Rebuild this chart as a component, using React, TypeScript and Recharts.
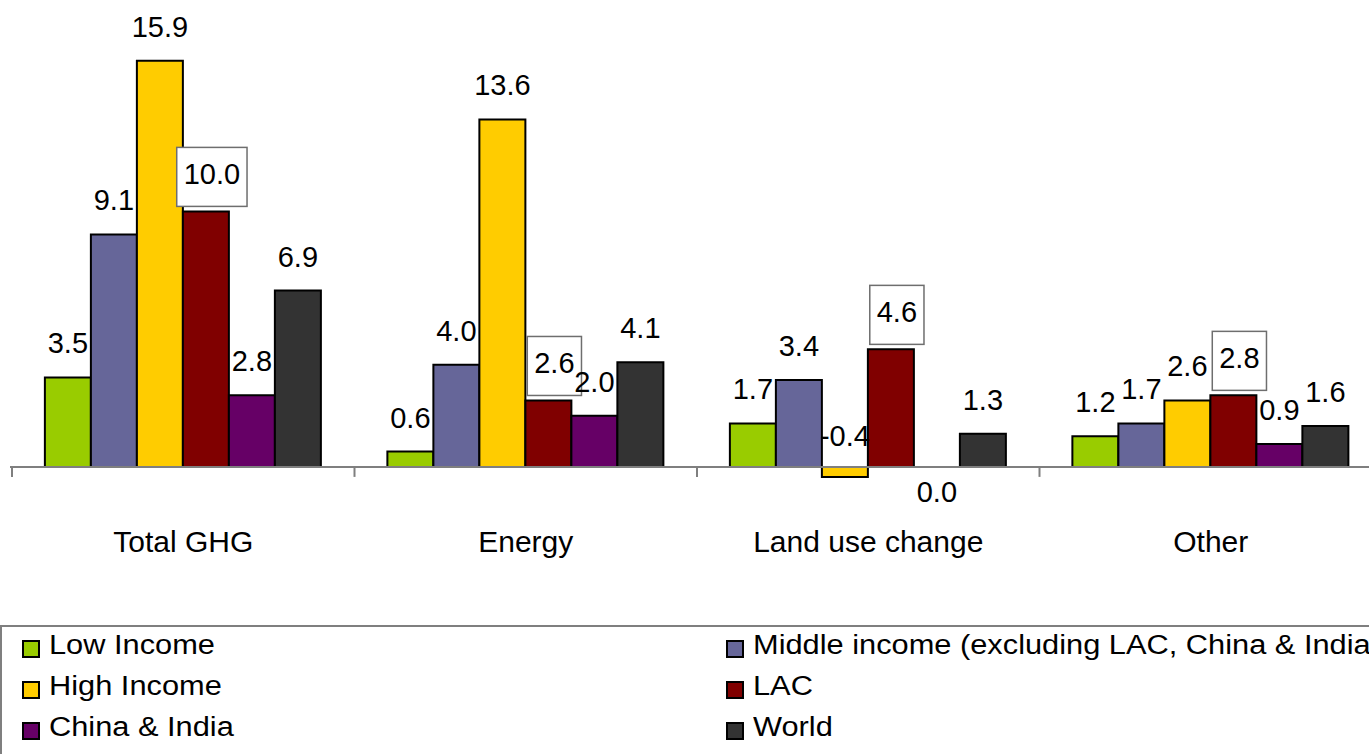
import {
  Bar,
  BarChart,
  Cell,
  LabelList,
  Legend,
  ReferenceLine,
  XAxis,
  YAxis,
} from "recharts";

const categories = ["Total GHG", "Energy", "Land use change", "Other"];

const lowIncome = [3.5, 0.6, 1.7, 1.2];
const middleIncome = [9.1, 4.0, 3.4, 1.7];
const highIncome = [15.9, 13.6, -0.4, 2.6];
const lac = [10.0, 2.6, 4.6, 2.8];
const chinaIndia = [2.8, 2.0, 0.0, 0.9];
const world = [6.9, 4.1, 1.3, 1.6];

const series = [
  { key: "low", name: "Low Income", values: lowIncome, color: "#99CC00", boxed: false },
  { key: "middle", name: "Middle income (excluding LAC, China & India)", values: middleIncome, color: "#666699", boxed: false },
  { key: "high", name: "High Income", values: highIncome, color: "#FFCC00", boxed: false },
  { key: "lac", name: "LAC", values: lac, color: "#800000", boxed: true },
  { key: "chinaIndia", name: "China & India", values: chinaIndia, color: "#660066", boxed: false },
  { key: "world", name: "World", values: world, color: "#333333", boxed: false },
];

const data = categories.map((category, i) => {
  const row: Record<string, string | number> = { category };
  series.forEach((s) => {
    row[s.key] = s.values[i];
  });
  return row;
});

const FONT = "'Liberation Sans', Arial, sans-serif";
const LABEL_SIZE = 29;

// value label; positive values sit above the bar, others near the zero line
const renderValueLabel = (boxed: boolean) => (props: any) => {
  const box = props.viewBox ?? props;
  const x = Number(props.x ?? box.x);
  const y = Number(props.y ?? box.y);
  const width = Number(props.width ?? box.width);
  const height = Number(props.height ?? box.height);
  const v = Number(props.value);
  const text = v.toFixed(1);
  const cx = x + width / 2;
  let cy: number;
  if (v > 0) cy = y - 34;
  else if (v < 0) cy = y + height - 31;
  else cy = y + height + 25;

  if (!boxed) {
    return (
      <text
        x={cx}
        y={cy + 10}
        textAnchor="middle"
        fontFamily={FONT}
        fontSize={LABEL_SIZE}
        fill="#000"
      >
        {text}
      </text>
    );
  }

  const tx = cx + 6;
  const ty = cy - 3;
  const textWidth = text.replace(".", "").length * 16.1 + 8;
  const boxWidth = textWidth + 14;
  return (
    <g>
      <rect
        x={tx - boxWidth / 2}
        y={ty - 27}
        width={boxWidth}
        height={59}
        fill="#fff"
        stroke="#6e6e6e"
        strokeWidth={1.5}
      />
      <text
        x={tx}
        y={ty + 10}
        textAnchor="middle"
        fontFamily={FONT}
        fontSize={LABEL_SIZE}
        fill="#000"
      >
        {text}
      </text>
    </g>
  );
};

// zero line with small ticks between the categories
const ZeroAxis = (props: any) => {
  const { x1, y1, x2 } = props;
  const step = (x2 - x1) / categories.length;
  const marks = Array.from({ length: categories.length + 1 }, (_, i) => x1 + i * step);
  return (
    <g>
      <line x1={x1 - 2} y1={y1} x2={x2} y2={y1} stroke="#7f7f7f" strokeWidth={2} />
      {marks.map((mx, i) => (
        <line key={i} x1={mx} y1={y1} x2={mx} y2={y1 + 10} stroke="#7f7f7f" strokeWidth={2} />
      ))}
    </g>
  );
};

const CategoryTick = (props: any) => {
  const { x, y, payload } = props;
  return (
    <text
      x={x}
      y={y + 26}
      textAnchor="middle"
      fontFamily={FONT}
      fontSize={30}
      fill="#000"
    >
      {payload.value}
    </text>
  );
};

const LegendBox = () => (
  <div
    style={{
      width: 1420,
      height: 129,
      boxSizing: "border-box",
      borderTop: "2px solid #7f7f7f",
      borderLeft: "2px solid #7f7f7f",
      fontFamily: FONT,
      fontSize: 27,
      color: "#000",
    }}
  >
    <div
      style={{
        marginTop: -2,
        display: "grid",
        gridTemplateColumns: "704px auto",
        gridAutoRows: "41px",
        alignItems: "center",
      }}
    >
      {series.map((s) => (
        <div key={s.key} style={{ display: "flex", alignItems: "center", whiteSpace: "nowrap" }}>
          <span
            style={{
              display: "inline-block",
              boxSizing: "border-box",
              width: 18,
              height: 18,
              marginLeft: 20,
              marginRight: 9,
              transform: "translateY(3px)",
              background: s.color,
              border: "2px solid #000",
            }}
          />
          <span style={{ display: "inline-block", transform: "scaleX(1.14)", transformOrigin: "left center" }}>
            {s.name}
          </span>
        </div>
      ))}
    </div>
  </div>
);

const App = () => {
  return (
    <div
      style={{
        position: "absolute",
        left: 0,
        top: 0,
        width: 1369,
        height: 754,
        overflow: "hidden",
        background: "#fff",
      }}
    >
      <BarChart
        width={1382}
        height={754}
        data={data}
        margin={{ top: 7, right: 0, bottom: 0, left: 12 }}
        barCategoryGap="9.6%"
        barGap={0}
      >
        <XAxis
          dataKey="category"
          axisLine={false}
          tickLine={false}
          height={107}
          interval={0}
          tick={<CategoryTick />}
        />
        <YAxis hide domain={[-2, 18]} />
        <ReferenceLine y={0} shape={ZeroAxis} />
        {series.map((s) => (
          <Bar
            key={s.key}
            dataKey={s.key}
            name={s.name}
            fill={s.color}
            stroke="#000"
            strokeWidth={2}
            minPointSize={(value: number) => (value === 0 ? 0.01 : 0)}
            isAnimationActive={false}
          >
            {s.values.map((v, i) => (
              <Cell
                key={i}
                fill={v === 0 ? "none" : s.color}
                stroke={v === 0 ? "none" : "#000"}
              />
            ))}
            <LabelList dataKey={s.key} content={renderValueLabel(s.boxed)} />
          </Bar>
        ))}
        <Legend
          verticalAlign="bottom"
          height={129}
          wrapperStyle={{ left: 0, bottom: 0 }}
          content={() => <LegendBox />}
        />
      </BarChart>
    </div>
  );
};

export default App;
